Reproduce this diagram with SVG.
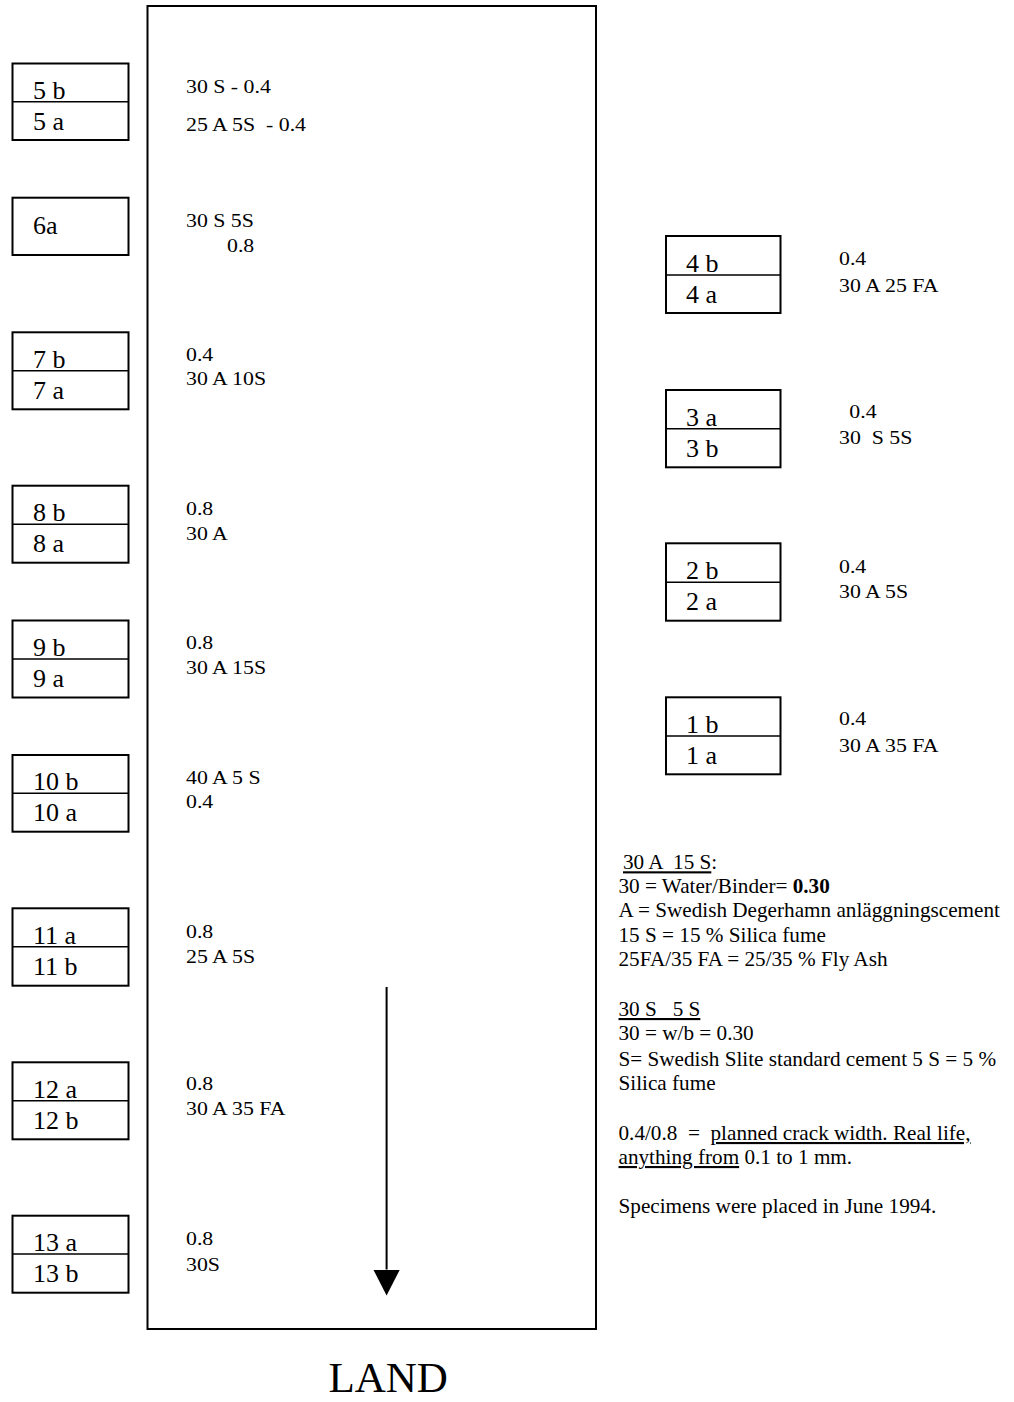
<svg xmlns="http://www.w3.org/2000/svg" width="1014" height="1402" viewBox="0 0 1014 1402">
<style>
  text { font-family: "Liberation Serif", "Times New Roman", serif; fill: #000; white-space: pre; }
  .lbl { font-family: "Liberation Serif", "Times New Roman", serif; font-size: 26px; }
  .in { font-family: "Liberation Serif", "Times New Roman", serif; font-size: 18.5px; }
  .leg { font-family: "Liberation Serif", "Times New Roman", serif; font-size: 21.2px; }
  .land { font-family: "Liberation Serif", "Times New Roman", serif; font-size: 43px; }
  .box { fill: #fff; stroke: #000; stroke-width: 2; }
  .div { stroke: #000; stroke-width: 1.6; }
  .frame { fill: none; stroke: #000; stroke-width: 2; }
  .u { text-decoration: underline; }
  .b { font-weight: bold; }
  .conn { stroke: #000; stroke-width: 2; fill: none; }
</style>
<defs>
  <marker id="ah" markerUnits="userSpaceOnUse" viewBox="0 -13.5 27 27" refX="0" refY="0" markerWidth="27" markerHeight="27" orient="auto">
    <path d="M0,-13.3 L26,0 L0,13.3 Z" fill="#000"/>
  </marker>
</defs>
<rect width="1014" height="1402" fill="#fff"/>

<g id="site">
  <rect class="frame" x="147.5" y="6" width="448.5" height="1323"/>
  <text transform="matrix(1.18 0 0 1 186 92.7)" class="in">30 S - 0.4</text>
  <text transform="matrix(1.18 0 0 1 186 130.7)" class="in">25 A 5S  - 0.4</text>
  <text transform="matrix(1.18 0 0 1 186 226.7)" class="in">30 S 5S</text>
  <text transform="matrix(1.18 0 0 1 227 251.7)" class="in">0.8</text>
  <text transform="matrix(1.18 0 0 1 186 360.7)" class="in">0.4</text>
  <text transform="matrix(1.18 0 0 1 186 385)" class="in">30 A 10S</text>
  <text transform="matrix(1.18 0 0 1 186 515)" class="in">0.8</text>
  <text transform="matrix(1.18 0 0 1 186 540)" class="in">30 A</text>
  <text transform="matrix(1.18 0 0 1 186 649)" class="in">0.8</text>
  <text transform="matrix(1.18 0 0 1 186 674)" class="in">30 A 15S</text>
  <text transform="matrix(1.18 0 0 1 186 784)" class="in">40 A 5 S</text>
  <text transform="matrix(1.18 0 0 1 186 808.3)" class="in">0.4</text>
  <text transform="matrix(1.18 0 0 1 186 938.3)" class="in">0.8</text>
  <text transform="matrix(1.18 0 0 1 186 962.7)" class="in">25 A 5S</text>
  <text transform="matrix(1.18 0 0 1 186 1090)" class="in">0.8</text>
  <text transform="matrix(1.18 0 0 1 186 1115)" class="in">30 A 35 FA</text>
  <text transform="matrix(1.18 0 0 1 186 1245)" class="in">0.8</text>
  <text transform="matrix(1.18 0 0 1 186 1270.7)" class="in">30S</text>
</g>

<g id="node-5">
  <rect class="box" x="12.5" y="63.5" width="116" height="76.5"/>
  <line class="div" x1="12.5" y1="101.7" x2="128.5" y2="101.7"/>
  <text class="lbl" x="33" y="98.5">5 b</text>
  <text class="lbl" x="33" y="129.5">5 a</text>
</g>
<g id="node-6">
  <rect class="box" x="12.5" y="197.7" width="116" height="57.3"/>
  <text class="lbl" x="33" y="234">6a</text>
</g>
<g id="node-7">
  <rect class="box" x="12.5" y="332.3" width="116" height="77"/>
  <line class="div" x1="12.5" y1="370.7" x2="128.5" y2="370.7"/>
  <text class="lbl" x="33" y="367.5">7 b</text>
  <text class="lbl" x="33" y="398.5">7 a</text>
</g>
<g id="node-8">
  <rect class="box" x="12.5" y="485.7" width="116" height="77"/>
  <line class="div" x1="12.5" y1="524.3" x2="128.5" y2="524.3"/>
  <text class="lbl" x="33" y="521">8 b</text>
  <text class="lbl" x="33" y="552">8 a</text>
</g>
<g id="node-9">
  <rect class="box" x="12.5" y="620.5" width="116" height="77"/>
  <line class="div" x1="12.5" y1="659" x2="128.5" y2="659"/>
  <text class="lbl" x="33" y="655.8">9 b</text>
  <text class="lbl" x="33" y="686.8">9 a</text>
</g>
<g id="node-10">
  <rect class="box" x="12.5" y="755" width="116" height="76.7"/>
  <line class="div" x1="12.5" y1="793.3" x2="128.5" y2="793.3"/>
  <text class="lbl" x="33" y="790">10 b</text>
  <text class="lbl" x="33" y="821">10 a</text>
</g>
<g id="node-11">
  <rect class="box" x="12.5" y="908.3" width="116" height="77.4"/>
  <line class="div" x1="12.5" y1="946.7" x2="128.5" y2="946.7"/>
  <text class="lbl" x="33" y="943.5">11 a</text>
  <text class="lbl" x="33" y="974.5">11 b</text>
</g>
<g id="node-12">
  <rect class="box" x="12.5" y="1062.3" width="116" height="77"/>
  <line class="div" x1="12.5" y1="1100.7" x2="128.5" y2="1100.7"/>
  <text class="lbl" x="33" y="1097.5">12 a</text>
  <text class="lbl" x="33" y="1128.5">12 b</text>
</g>
<g id="node-13">
  <rect class="box" x="12.5" y="1215.7" width="116" height="77"/>
  <line class="div" x1="12.5" y1="1254" x2="128.5" y2="1254"/>
  <text class="lbl" x="33" y="1250.8">13 a</text>
  <text class="lbl" x="33" y="1281.8">13 b</text>
</g>

<g id="node-4">
  <rect class="box" x="666" y="236" width="114.5" height="77"/>
  <line class="div" x1="666" y1="275" x2="780.5" y2="275"/>
  <text class="lbl" x="686" y="271.8">4 b</text>
  <text class="lbl" x="686" y="302.8">4 a</text>
  <text transform="matrix(1.18 0 0 1 839 265)" class="in">0.4</text>
  <text transform="matrix(1.18 0 0 1 839 291.7)" class="in">30 A 25 FA</text>
</g>
<g id="node-3">
  <rect class="box" x="666" y="390" width="114.5" height="77.3"/>
  <line class="div" x1="666" y1="428.7" x2="780.5" y2="428.7"/>
  <text class="lbl" x="686" y="425.5">3 a</text>
  <text class="lbl" x="686" y="456.5">3 b</text>
  <text transform="matrix(1.18 0 0 1 849.3 418.3)" class="in">0.4</text>
  <text transform="matrix(1.18 0 0 1 839 444)" class="in">30  S 5S</text>
</g>
<g id="node-2">
  <rect class="box" x="666" y="543.3" width="114.5" height="77.4"/>
  <line class="div" x1="666" y1="582.3" x2="780.5" y2="582.3"/>
  <text class="lbl" x="686" y="579">2 b</text>
  <text class="lbl" x="686" y="610">2 a</text>
  <text transform="matrix(1.18 0 0 1 839 573.3)" class="in">0.4</text>
  <text transform="matrix(1.18 0 0 1 839 598.3)" class="in">30 A 5S</text>
</g>
<g id="node-1">
  <rect class="box" x="666" y="697.3" width="114.5" height="77"/>
  <line class="div" x1="666" y1="736" x2="780.5" y2="736"/>
  <text class="lbl" x="686" y="732.8">1 b</text>
  <text class="lbl" x="686" y="763.8">1 a</text>
  <text transform="matrix(1.18 0 0 1 839 725)" class="in">0.4</text>
  <text transform="matrix(1.18 0 0 1 839 751.7)" class="in">30 A 35 FA</text>
</g>

<g id="connectors">
  <line class="conn" x1="386.6" y1="987" x2="386.6" y2="1269.5" marker-end="url(#ah)"/>
</g>

<g id="legend">
  <text class="leg" x="623" y="869.3"><tspan class="u">30 A  15 S</tspan>:</text>
  <text class="leg" x="618.5" y="893.3">30 = Water/Binder= <tspan class="b">0.30</tspan></text>
  <text class="leg" x="618.5" y="917.3">A = Swedish Degerhamn anläggningscement</text>
  <text class="leg" x="618.5" y="941.7">15 S = 15 % Silica fume</text>
  <text class="leg" x="618.5" y="966">25FA/35 FA = 25/35 % Fly Ash</text>
  <text class="leg" x="618.5" y="1016"><tspan class="u">30 S   5 S</tspan></text>
  <text class="leg" x="618.5" y="1040">30 = w/b = 0.30</text>
  <text class="leg" x="618.5" y="1066">S= Swedish Slite standard cement 5 S = 5 %</text>
  <text class="leg" x="618.5" y="1090">Silica fume</text>
  <text class="leg" x="618.5" y="1140">0.4/0.8  =  <tspan class="u">planned crack width. Real life,</tspan></text>
  <text class="leg" x="618.5" y="1164"><tspan class="u">anything from</tspan> 0.1 to 1 mm.</text>
  <text class="leg" x="618.5" y="1213.3">Specimens were placed in June 1994.</text>
</g>

<text class="land" x="328.5" y="1392">LAND</text>
</svg>
